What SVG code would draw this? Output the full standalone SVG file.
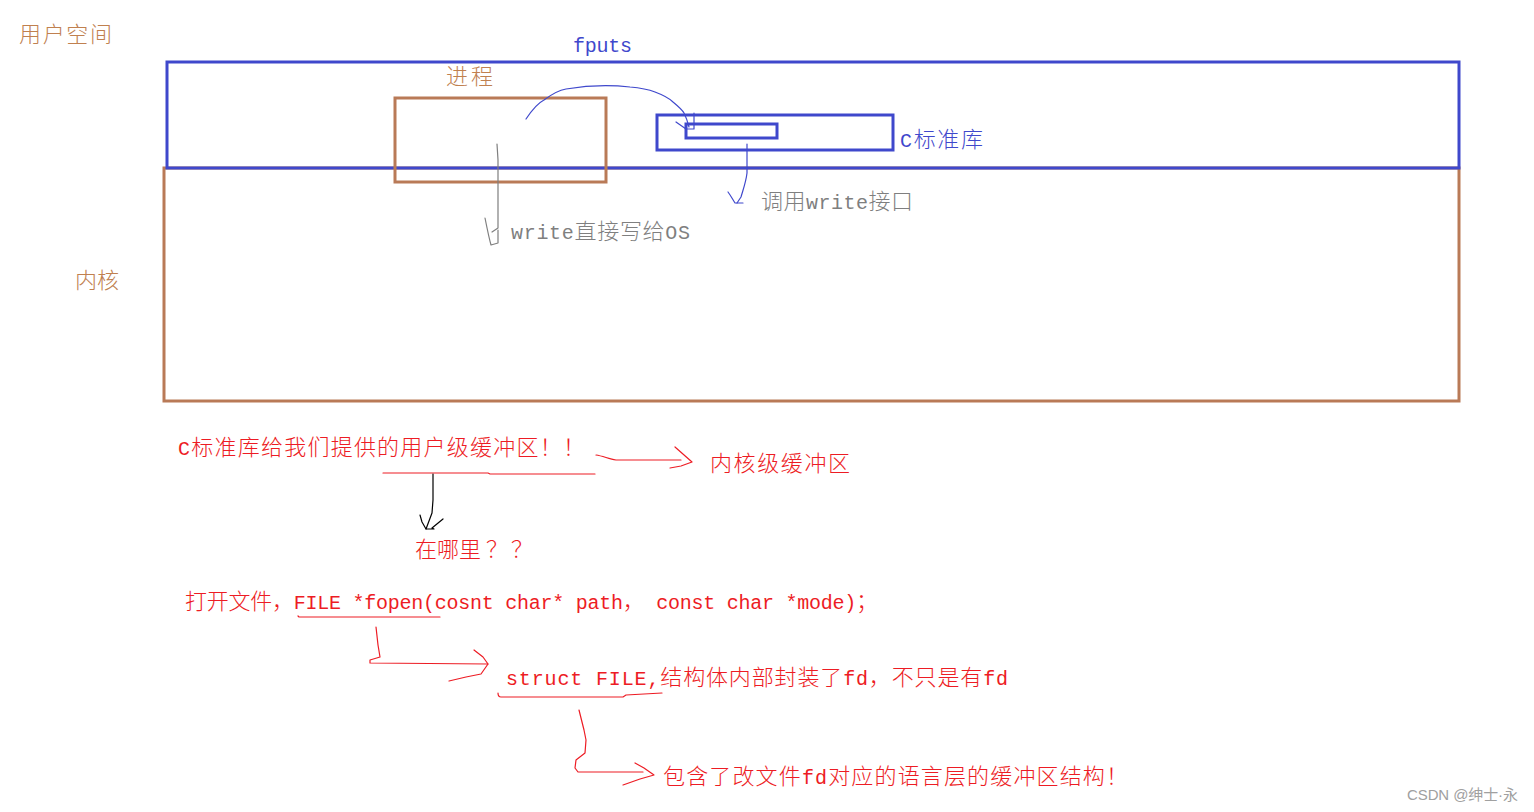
<svg xmlns="http://www.w3.org/2000/svg" width="1534" height="812" viewBox="0 0 1534 812">
<style>
.box{fill:none;stroke-width:3}
.blue{stroke:#3f48cc}
.brown{stroke:#b97a57}
.t{font-family:"Noto Sans CJK SC",sans-serif;font-size:22px;font-weight:300}
.l{font-family:"Liberation Mono",monospace;font-size:20px;font-weight:400}
.tb{fill:#c0804f}
.tbl{fill:#3f48cc}
.tg{fill:#7f7f7f}
.tr{fill:#ed1c24}
.ln{fill:none;stroke-width:1.2;stroke-linecap:round;stroke-linejoin:round}
</style>
<rect width="1534" height="812" fill="#ffffff"/>
<g id="kernel">
<rect class="box brown" x="164" y="168" width="1295" height="233"/>
<text class="t tb" x="75" y="288" textLength="44" lengthAdjust="spacing">内核</text>
</g>
<g id="user-space">
<rect class="box blue" x="167" y="62" width="1292" height="106"/>
<text class="t tb" x="19" y="42" textLength="93" lengthAdjust="spacing">用户空间</text>
</g>
<g id="process">
<rect class="box brown" x="395" y="98" width="211" height="84"/>
<text class="t tb" x="446" y="84" textLength="47" lengthAdjust="spacing">进程</text>
</g>
<g id="c-lib">
<rect class="box blue" x="657" y="115" width="236" height="35"/>
<text class="t tbl" x="900" y="147" textLength="83" lengthAdjust="spacing"><tspan class="l">C</tspan>标准库</text>
</g>
<g id="c-buffer">
<rect class="box blue" x="686" y="124" width="91" height="14"/>
</g>
<g id="labels">
<text class="l tbl" x="573" y="52" textLength="59" lengthAdjust="spacing">fputs</text>
<text class="t tg" x="761" y="209" textLength="152" lengthAdjust="spacing">调用<tspan class="l">write</tspan>接口</text>
<text class="t tg" x="511" y="239" textLength="179" lengthAdjust="spacing"><tspan class="l">write</tspan>直接写给<tspan class="l">OS</tspan></text>
<text class="t tr" x="178" y="455" textLength="407" lengthAdjust="spacing"><tspan class="l">C</tspan>标准库给我们提供的用户级缓冲区！！</text>
<text class="t tr" x="710" y="471" textLength="140" lengthAdjust="spacing">内核级缓冲区</text>
<text class="t tr" x="415" y="557">在哪里<tspan x="486">？</tspan><tspan x="511">？</tspan></text>
<text class="t tr" x="185" y="609" textLength="693" lengthAdjust="spacing">打开文件，<tspan class="l">FILE *fopen(cosnt char* path</tspan>，<tspan class="l"> const char *mode)</tspan>；</text>
<text class="t tr" x="506" y="685" textLength="502" lengthAdjust="spacing"><tspan class="l">struct FILE,</tspan>结构体内部封装了<tspan class="l">fd</tspan>，不只是有<tspan class="l">fd</tspan></text>
<text class="t tr" x="663" y="784" textLength="465" lengthAdjust="spacing">包含了改文件<tspan class="l">fd</tspan>对应的语言层的缓冲区结构！</text>
<text x="1407" y="800" font-family="'Liberation Sans','Noto Sans CJK SC',sans-serif" font-size="15" fill="#a0a0a0" textLength="111" lengthAdjust="spacing">CSDN @绅士·永</text>
</g>
<g id="connectors">
<path class="ln blue" d="M526,119 C532,110 538,103 544,100 C552,94 560,90 566,89 C590,85 612,85 630,87 C642,88 650,90 655,92 C663,95 669,98 673,102 C679,107 683,111 684,113 C687,119 688,123 689,127"/>
<path class="ln blue" d="M676,122 L686,129 L694,129 L694,113"/>
<path class="ln" stroke="#7f7f7f" d="M497,144 L498,160 L498,228 L492,232"/>
<path class="ln" stroke="#7f7f7f" d="M485,218 C487,228 489,238 491,245 L498,243 L498,230"/>
<path class="ln blue" d="M747,144 L747,173 C746,182 743,190 741,197 L737,203"/>
<path class="ln blue" d="M728,192 C731,196 733,200 735,203 L743,203"/>
<path class="ln" stroke="#ed1c24" d="M383,473 L488,473 L490,474 L595,474"/>
<path class="ln" stroke="#ed1c24" d="M596,455 C603,456 609,459 616,460 L681,460"/>
<path class="ln" stroke="#ed1c24" d="M675,447 L692,462 L681,466 L670,468"/>
<path class="ln" stroke="#000000" d="M433,474 L433,500 L432,513 L426,529"/>
<path class="ln" stroke="#000000" d="M420,515 L422,522 L426,529 L434,529 L432,528 L443,519"/>
<path class="ln" stroke="#ed1c24" d="M298,616 L299,617 L440,617"/>
<path class="ln" stroke="#ed1c24" d="M376,627 L378,645 L380,657 L370,660 L370,663 L488,664"/>
<path class="ln" stroke="#ed1c24" d="M474,650 L483,657 L488,664 L481,674 L466,677 L449,681"/>
<path class="ln" stroke="#ed1c24" d="M498,693 C498,695 499,697 501,697 L623,697 L626,695 L662,693"/>
<path class="ln" stroke="#ed1c24" d="M579,710 L584,730 L586,740 L585,753 L576,760 L575,768 L578,772 L643,772"/>
<path class="ln" stroke="#ed1c24" d="M635,763 L644,768 L654,775 L640,779 L623,785"/>
</g>
</svg>
